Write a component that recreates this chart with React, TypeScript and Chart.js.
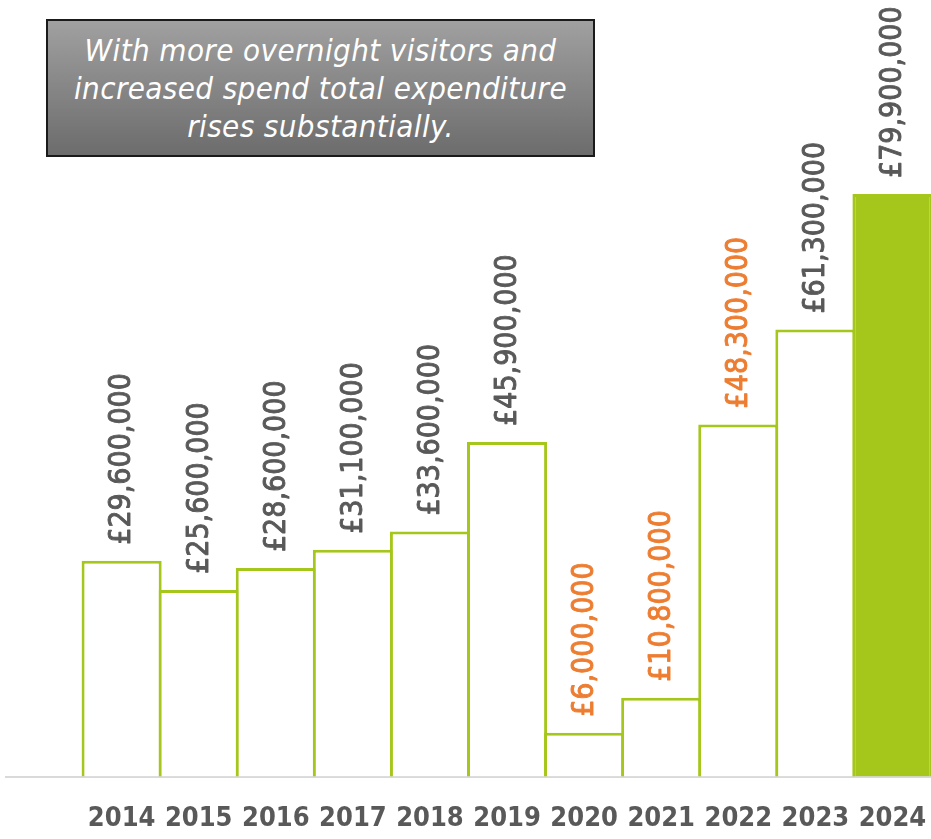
import React, { useEffect, useRef } from "react";
import { Chart, registerables } from "chart.js";

Chart.register(...registerables);

const years = ["2014", "2015", "2016", "2017", "2018", "2019", "2020", "2021", "2022", "2023", "2024"];
const spend = [29600000, 25600000, 28600000, 31100000, 33600000, 45900000, 6000000, 10800000, 48300000, 61300000, 79900000];
const highlightYears = ["2020", "2021", "2022"];
const filledYears = ["2024"];
const titleLines = ["With more overnight visitors and", "increased spend total expenditure", "rises substantially."];

const GREEN = "#A5C61A";
const ORANGE = "#ED7D31";
const GREY = "#595959";

const labelPlugin = {
  id: "barValueLabels",
  afterDatasetsDraw(chart: any) {
    const ctx = chart.ctx;
    const meta = chart.getDatasetMeta(0);
    const labels = chart.data.labels as string[];
    const data = chart.data.datasets[0].data as (number | null)[];
    ctx.save();
    ctx.font = "30px 'DejaVu Sans Condensed', 'DejaVu Sans', sans-serif";
    ctx.textAlign = "left";
    ctx.textBaseline = "middle";
    ctx.lineWidth = 0.9;
    ctx.lineJoin = "round";
    meta.data.forEach((el: any, i: number) => {
      const v = data[i];
      if (v == null) return;
      const text = "£" + v.toLocaleString("en-GB");
      const c = highlightYears.includes(labels[i]) ? ORANGE : GREY;
      ctx.fillStyle = c;
      ctx.strokeStyle = c;
      ctx.save();
      ctx.translate(el.x, el.y - 16);
      ctx.rotate(-Math.PI / 2);
      ctx.fillText(text, 0, 1);
      ctx.strokeText(text, 0, 1);
      ctx.restore();
    });
    ctx.restore();
  },
};

export default function App() {
  const canvasRef = useRef<HTMLCanvasElement | null>(null);

  useEffect(() => {
    if (!canvasRef.current) return;
    const labels = ["", ...years];
    const values: (number | null)[] = [null, ...spend];
    const chart = new Chart(canvasRef.current, {
      type: "bar",
      data: {
        labels,
        datasets: [
          {
            data: values,
            backgroundColor: labels.map((l) => (filledYears.includes(l) ? GREEN : "#FFFFFF")),
            borderColor: GREEN,
            borderWidth: 3,
            borderSkipped: "bottom",
            barPercentage: 80 / 77,
            categoryPercentage: 1,
          },
        ],
      },
      options: {
        responsive: false,
        animation: false,
        layout: { padding: { left: 6, right: 0, top: 0, bottom: 0 } },
        plugins: {
          legend: { display: false },
          tooltip: { enabled: false },
          title: { display: false },
        },
        scales: {
          x: {
            type: "category",
            grid: {
              display: true,
              drawOnChartArea: false,
              drawTicks: true,
              tickLength: 22,
              color: "rgba(0,0,0,0)",
            },
            border: { display: true, color: "#D9D9D9", width: 2 },
            ticks: {
              padding: 4,
              color: GREY,
              font: { family: "'Liberation Sans Narrow', 'DejaVu Sans Condensed', sans-serif", size: 27, weight: "bold" },
              maxRotation: 0,
              autoSkip: false,
            },
          },
          y: {
            display: false,
            min: 0,
            max: 106500000,
          },
        },
      },
      plugins: [labelPlugin],
    });
    return () => chart.destroy();
  }, []);

  return (
    <div style={{ position: "absolute", left: 0, top: 0, width: 931, height: 839, background: "#FFFFFF", overflow: "hidden" }}>
      <canvas ref={canvasRef} width={931} height={839} style={{ position: "absolute", left: 0, top: 0 }} />
      <div
        style={{
          position: "absolute",
          left: 46,
          top: 19,
          width: 549,
          height: 138,
          boxSizing: "border-box",
          border: "2px solid #1A1A1A",
          background: "linear-gradient(to bottom, #A0A0A0, #6C6C6C)",
          display: "flex",
          flexDirection: "column",
          justifyContent: "center",
          alignItems: "center",
          color: "#FFFFFF",
          fontFamily: "'DejaVu Sans Condensed', 'DejaVu Sans', sans-serif",
          fontStyle: "italic",
          fontSize: 31,
          letterSpacing: "0.4px",
          lineHeight: "38px",
          textAlign: "center",
          whiteSpace: "nowrap",
        }}
      >
        {titleLines.map((line) => (
          <div key={line}>{line}</div>
        ))}
      </div>
    </div>
  );
}
